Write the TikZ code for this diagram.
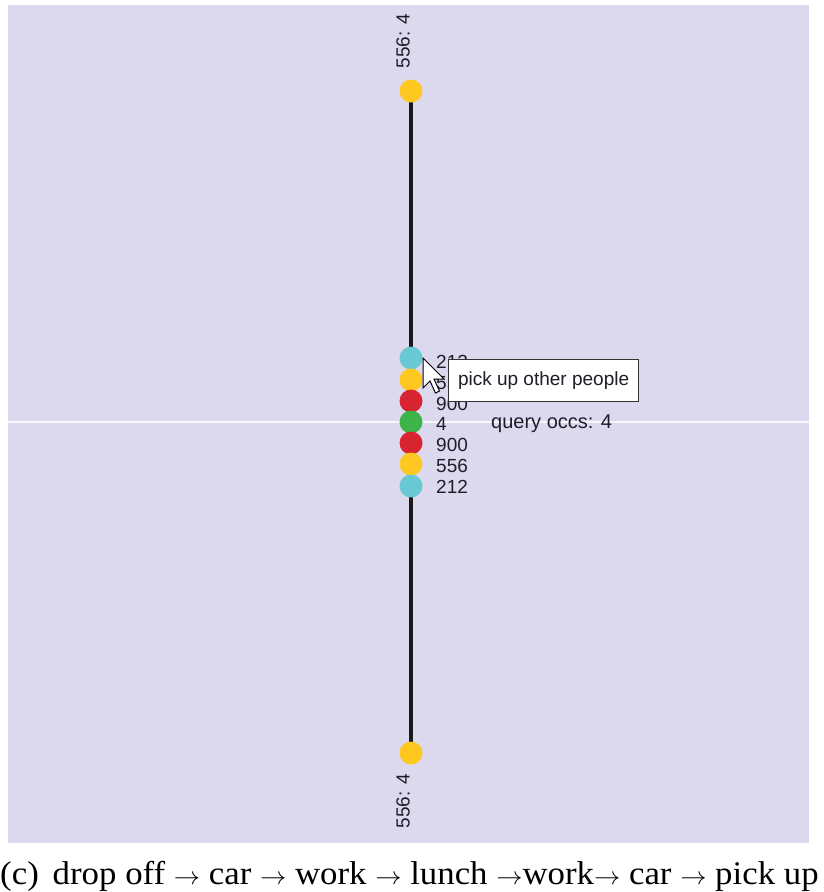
\documentclass[tikz,border=0pt]{standalone}
\usepackage{fontspec}
\setmainfont{Liberation Serif}
\setsansfont{Liberation Sans}
\definecolor{panelbg}{RGB}{220,216,238}
\definecolor{dcyan}{RGB}{104,200,212}
\definecolor{dyellow}{RGB}{255,200,32}
\definecolor{dred}{RGB}{216,36,48}
\definecolor{dgreen}{RGB}{60,180,74}
\definecolor{txt}{RGB}{30,30,40}
\begin{document}
\begin{tikzpicture}[x=1pt,y=-1pt,
  dot/.style={circle,minimum size=23pt,inner sep=0pt,fill=#1},
  numlbl/.style={anchor=west,inner sep=0pt,text=txt,font=\sffamily\fontsize{19}{19}\selectfont},
  endlbl/.style={rotate=90,inner sep=0pt,text=txt,font=\sffamily\fontsize{19}{19}\selectfont},
  tipbox/.style={draw=black!80,line width=1.2pt,fill=white,inner sep=0pt,minimum width=190pt,minimum height=42pt,anchor=north west,font=\sffamily\fontsize{19}{19}\selectfont,text=txt},
  capt/.style={inner sep=0pt,anchor=base west,font=\fontsize{33}{33}\selectfont}]
\useasboundingbox (0,0) rectangle (824,892);
\fill[panelbg] (8,5) rectangle (809,843);
\draw[white,line width=1.5pt,opacity=0.8] (8,422) -- (809,422);
% main line
\coordinate (top) at (411,91);
\coordinate (bot) at (411,753);
\draw[black!90,line width=3.5pt] (top) -- (bot);
\node[dot=dyellow] (t) at (top) {};
\node[dot=dyellow] (b) at (bot) {};
\node[endlbl] (tl) at (403,41) {556: 4};
\node[endlbl] (bl) at (403,801) {556: 4};
% stack
\node[dot=dcyan] (s1) at (411,358) {};
\node[dot=dyellow] (s2) at (411,380) {};
\node[dot=dred] (s3) at (411,401) {};
\node[dot=dgreen] (s4) at (411,422) {};
\node[dot=dred] (s5) at (411,443) {};
\node[dot=dyellow] (s6) at (411,464) {};
\node[dot=dcyan] (s7) at (411,486) {};
\node[numlbl] (l1) at (436,362) {212};
\node[numlbl] (l2) at (436,383) {556};
\node[numlbl] (l3) at (436,404) {900};
\node[numlbl] (l4) at (436,424) {4};
\node[numlbl] (l5) at (436,445) {900};
\node[numlbl] (l6) at (436,466) {556};
\node[numlbl] (l7) at (436,487) {212};
\node[numlbl,font=\sffamily\fontsize{20}{20}\selectfont] (q) at (491,424) {query occs: 4};
% tooltip
\node[tipbox] (tip) at (448,359) {pick up other people};
% cursor
\draw[black,fill=white,line width=1pt,line join=miter]
  (423,358) -- ++(0,30) -- ++(7,-7) -- ++(5.5,12) -- ++(4,-2) -- ++(-5.5,-12) -- ++(10,0) -- cycle;
% caption
\node[capt] (cap) at (0,884) {\scalebox{1.055}[1]{(c)\hspace{0.4em}drop off $\rightarrow$ car $\rightarrow$ work $\rightarrow$ lunch $\rightarrow$work$\rightarrow$ car $\rightarrow$ pick up}};
\end{tikzpicture}
\end{document}
